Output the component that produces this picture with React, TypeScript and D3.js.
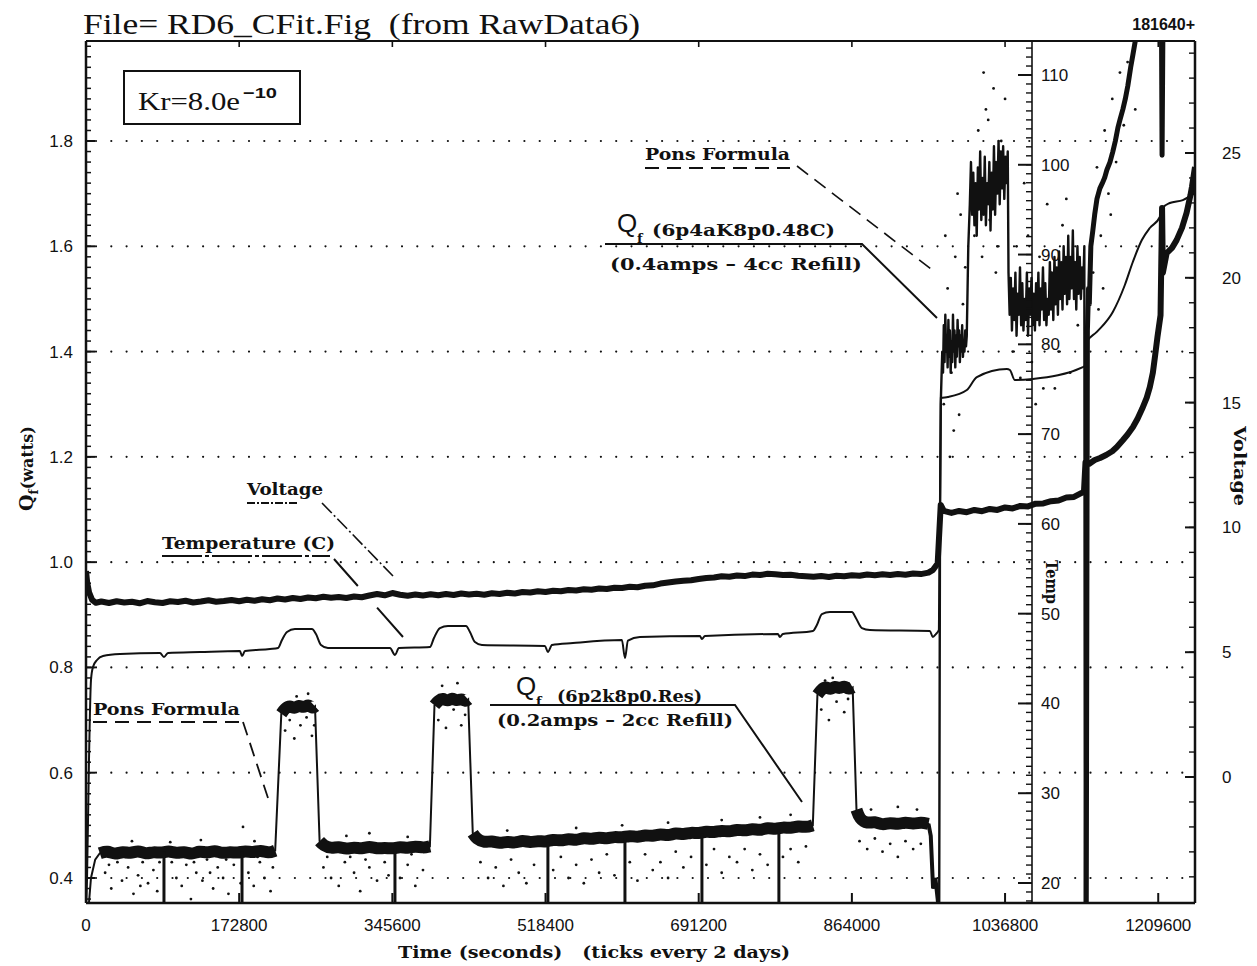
import React from 'react';
import * as d3 from 'd3';

// ---------- axis tick values ----------
const timeTickDays = [0, 2, 4, 6, 8, 10, 12, 14];
const qTicks = [0.4, 0.6, 0.8, 1.0, 1.2, 1.4, 1.6, 1.8];
const tempTicks = [20, 30, 40, 50, 60, 70, 80, 90, 100, 110];
const voltTicks = [0, 5, 10, 15, 20, 25];

// ---------- data (time in days, Q in watts, T in C, V in volts) ----------
const voltage: [number, number][] = [
  [0, 8.25], [0.015, 7.8], [0.04, 7.4], [0.08, 7.1], [0.13, 6.98], [0.2, 7.03], [0.3, 6.97], [0.4, 7.04], [0.5, 6.99], [0.6, 7.02], [0.7, 6.96], [0.8, 7.05], [0.9, 7.0], [1.0, 6.97], [1.1, 7.04], [1.2, 7.01], [1.3, 7.06], [1.4, 6.99], [1.5, 7.03], [1.6, 7.08], [1.7, 7.02], [1.8, 7.05], [1.9, 7.09], [2.0, 7.04], [2.1, 7.1], [2.2, 7.06], [2.3, 7.12], [2.4, 7.08], [2.5, 7.15], [2.6, 7.11], [2.7, 7.17], [2.8, 7.13], [2.9, 7.19], [3.0, 7.16], [3.1, 7.22], [3.2, 7.18], [3.3, 7.21], [3.4, 7.17], [3.5, 7.23], [3.6, 7.2], [3.7, 7.27], [3.8, 7.33], [3.9, 7.28], [4.0, 7.37], [4.1, 7.3], [4.2, 7.26], [4.3, 7.31], [4.4, 7.27], [4.5, 7.32], [4.6, 7.28], [4.7, 7.33], [4.8, 7.29], [4.9, 7.35], [5.0, 7.31], [5.1, 7.34], [5.2, 7.3], [5.3, 7.36], [5.4, 7.33], [5.5, 7.38], [5.6, 7.35], [5.7, 7.41], [5.8, 7.39], [5.9, 7.44], [6.0, 7.41], [6.1, 7.46], [6.2, 7.44], [6.3, 7.49], [6.4, 7.47], [6.5, 7.52], [6.6, 7.5], [6.7, 7.55], [6.8, 7.53], [6.9, 7.58], [7.0, 7.57], [7.1, 7.62], [7.2, 7.6], [7.3, 7.66], [7.4, 7.68], [7.5, 7.75], [7.6, 7.79], [7.7, 7.83], [7.8, 7.86], [7.9, 7.88], [8.0, 7.93], [8.1, 7.97], [8.2, 7.99], [8.3, 8.04], [8.4, 8.02], [8.5, 8.07], [8.6, 8.05], [8.7, 8.11], [8.8, 8.09], [8.9, 8.14], [9.0, 8.12], [9.1, 8.09], [9.2, 8.1], [9.3, 8.06], [9.4, 8.04], [9.5, 8.02], [9.6, 8.05], [9.7, 8.01], [9.8, 8.06], [9.9, 8.04], [10.0, 8.08], [10.1, 8.06], [10.2, 8.11], [10.3, 8.08], [10.4, 8.12], [10.5, 8.09], [10.6, 8.13], [10.7, 8.1], [10.8, 8.15], [10.9, 8.13], [11.0, 8.19], [11.06, 8.3], [11.12, 8.55],
  [11.16, 10.9], [11.2, 10.66], [11.3, 10.58], [11.4, 10.66], [11.5, 10.61], [11.6, 10.7], [11.7, 10.65], [11.8, 10.74], [11.9, 10.7], [12.0, 10.8], [12.1, 10.76], [12.2, 10.86], [12.3, 10.84], [12.4, 10.95], [12.5, 10.96], [12.6, 11.05], [12.7, 11.08], [12.8, 11.2], [12.9, 11.22], [13.0, 11.38], [13.03, 11.42],
  [13.05, 12.6], [13.1, 12.55], [13.17, 12.7], [13.24, 12.78], [13.32, 12.9], [13.4, 13.05], [13.46, 13.22], [13.54, 13.5], [13.6, 13.72], [13.67, 14.02], [13.73, 14.35], [13.79, 14.75], [13.85, 15.2], [13.89, 15.62], [13.93, 16.2], [13.96, 16.9], [13.99, 17.63], [14.03, 18.5], [14.05, 22.8], [14.06, 20.2], [14.11, 20.99], [14.18, 21.2], [14.24, 21.51], [14.31, 22.0], [14.37, 22.6], [14.42, 23.3], [14.44, 23.64], [14.48, 24.44],
];

const temperature: [number, number][] = [
  [0.0, 17], [0.013, 20.3], [0.039, 33.7], [0.065, 42.6], [0.091, 44.06], [0.144, 44.84], [0.222, 45.28], [0.444, 45.51], [0.966, 45.62], [1.018, 45.17], [1.07, 45.62], [1.488, 45.73], [2.01, 45.84], [2.037, 45.28], [2.076, 45.84], [2.402, 46.06], [2.507, 46.17], [2.559, 47.07], [2.624, 47.96], [2.728, 48.29], [2.95, 48.29], [3.003, 47.73], [3.068, 46.51], [3.159, 46.17], [3.969, 46.17], [4.034, 45.4], [4.086, 46.17], [4.491, 46.29], [4.543, 47.29], [4.621, 48.4], [4.726, 48.62], [4.961, 48.62], [5.013, 47.96], [5.078, 46.84], [5.17, 46.51], [5.992, 46.4], [6.031, 45.73], [6.084, 46.51], [6.358, 46.73], [6.997, 47.07], [7.037, 45.06], [7.076, 47.0], [7.232, 47.4], [8.016, 47.51], [8.042, 47.17], [8.081, 47.51], [9.034, 47.73], [9.06, 47.4], [9.099, 47.73], [9.491, 48.07], [9.543, 48.74], [9.608, 49.96], [9.713, 50.18], [10.0, 50.18], [10.052, 49.52], [10.131, 48.4], [10.235, 48.18], [11.018, 48.07], [11.057, 47.4], [11.097, 47.73], [11.136, 48.2],
  [11.162, 74.02], [11.253, 74.13], [11.501, 74.91], [11.632, 76.36], [12.023, 77.25], [12.063, 77.14], [12.128, 76.02], [12.363, 76.14], [13.016, 77.47], [13.042, 77.6], [13.055, 80.15], [13.198, 81.38], [13.407, 83.6], [13.564, 86.61], [13.668, 89.17], [13.786, 91.62], [13.89, 92.96], [14.021, 94.18], [14.06, 95.18], [14.151, 95.74], [14.321, 96.07], [14.478, 96.85],
];

// Q_f at 0.2 amps: steady stretches (baseline and the three heat pulses)
const qLowStart: [number, number][] = [[0.026, 0.33], [0.065, 0.40], [0.12, 0.435], [0.18, 0.447]];
const qLowSeg0: [number, number][] = [[0.18, 0.447], [0.28, 0.452], [0.38, 0.444], [0.48, 0.451], [0.58, 0.446], [0.68, 0.453], [0.78, 0.445], [0.88, 0.45], [0.98, 0.447], [1.08, 0.452], [1.18, 0.446], [1.28, 0.451], [1.38, 0.444], [1.48, 0.452], [1.58, 0.447], [1.68, 0.453], [1.78, 0.446], [1.88, 0.45], [1.98, 0.447], [2.08, 0.452], [2.18, 0.448], [2.28, 0.453], [2.38, 0.447], [2.47, 0.452]];
const qLowSeg1: [number, number][] = [[2.55, 0.712], [2.6, 0.722], [2.66, 0.728], [2.72, 0.721], [2.78, 0.729], [2.84, 0.723], [2.9, 0.73], [2.96, 0.722], [2.99, 0.726]];
const qLowSeg2: [number, number][] = [[3.05, 0.47], [3.1, 0.462], [3.2, 0.456], [3.3, 0.46], [3.4, 0.454], [3.5, 0.459], [3.6, 0.455], [3.7, 0.461], [3.8, 0.455], [3.9, 0.458], [4.0, 0.455], [4.1, 0.46], [4.2, 0.456], [4.3, 0.461], [4.4, 0.457], [4.49, 0.46]];
const qLowSeg3: [number, number][] = [[4.55, 0.728], [4.6, 0.737], [4.66, 0.742], [4.72, 0.735], [4.78, 0.743], [4.84, 0.736], [4.9, 0.741], [4.96, 0.735], [4.99, 0.739]];
const qLowSeg4: [number, number][] = [[5.05, 0.485], [5.1, 0.474], [5.2, 0.467], [5.3, 0.471], [5.4, 0.465], [5.5, 0.47], [5.6, 0.466], [5.7, 0.472], [5.8, 0.467], [5.9, 0.471], [6.0, 0.468], [6.1, 0.474], [6.2, 0.47], [6.3, 0.475], [6.4, 0.471], [6.5, 0.477], [6.6, 0.473], [6.7, 0.478], [6.8, 0.474], [6.9, 0.479], [7.0, 0.476], [7.1, 0.481], [7.2, 0.477], [7.3, 0.482], [7.4, 0.479], [7.5, 0.484], [7.6, 0.48], [7.7, 0.486], [7.8, 0.482], [7.9, 0.487], [8.0, 0.484], [8.1, 0.489], [8.2, 0.486], [8.3, 0.491], [8.4, 0.487], [8.5, 0.493], [8.6, 0.489], [8.7, 0.494], [8.8, 0.49], [8.9, 0.496], [9.0, 0.492], [9.1, 0.497], [9.2, 0.494], [9.3, 0.499], [9.4, 0.496], [9.49, 0.5]];
const qLowSeg5: [number, number][] = [[9.55, 0.748], [9.6, 0.758], [9.66, 0.764], [9.72, 0.757], [9.78, 0.765], [9.84, 0.759], [9.9, 0.766], [9.96, 0.758], [10.01, 0.762]];
const qLowSeg6: [number, number][] = [[10.06, 0.53], [10.1, 0.512], [10.2, 0.503], [10.3, 0.508], [10.4, 0.5], [10.5, 0.506], [10.6, 0.501], [10.7, 0.507], [10.8, 0.502], [10.9, 0.506], [11.0, 0.503]];
const qLowEnd: [number, number][] = [[11.0, 0.503], [11.03, 0.48], [11.06, 0.38], [11.09, 0.40], [11.12, 0.36], [11.14, 0.33]];
// refill events: [day, Q level before the drop]
const refills: [number, number][] = [[1.018, 0.45], [2.037, 0.45], [4.034, 0.457], [6.031, 0.468], [7.037, 0.476], [8.042, 0.485], [9.047, 0.492]];

// Q_f at 0.4 amps (before and after the 4cc refill at ~13.04 days)
const qHighA: [number, number][] = [
  [11.14, 0.33], [11.15, 1.05], [11.16, 1.30], [11.18, 1.40], [11.19, 1.36], [11.2, 1.45], [11.21, 1.38], [11.22, 1.47], [11.23, 1.40], [11.24, 1.43], [11.25, 1.37], [11.26, 1.46], [11.27, 1.39], [11.28, 1.44], [11.29, 1.36], [11.3, 1.42], [11.31, 1.38], [11.32, 1.47], [11.33, 1.40], [11.34, 1.44], [11.35, 1.37], [11.36, 1.43], [11.37, 1.39], [11.38, 1.46], [11.39, 1.41], [11.4, 1.44], [11.41, 1.38], [11.42, 1.43], [11.43, 1.40], [11.44, 1.45], [11.45, 1.39], [11.46, 1.42], [11.47, 1.40], [11.48, 1.44], [11.49, 1.41], [11.5, 1.43],
  [11.52, 1.60], [11.54, 1.68], [11.555, 1.76], [11.57, 1.66], [11.585, 1.74], [11.6, 1.64], [11.615, 1.72], [11.63, 1.62], [11.645, 1.75], [11.66, 1.67], [11.675, 1.78], [11.69, 1.65], [11.705, 1.73], [11.72, 1.66], [11.735, 1.77], [11.75, 1.64], [11.765, 1.72], [11.78, 1.68], [11.795, 1.76], [11.81, 1.63], [11.825, 1.74], [11.84, 1.67], [11.855, 1.79], [11.87, 1.66], [11.885, 1.76], [11.9, 1.70], [11.915, 1.80], [11.93, 1.68], [11.945, 1.78], [11.96, 1.71], [11.975, 1.79], [11.99, 1.69], [12.005, 1.77], [12.02, 1.72], [12.035, 1.78],
  [12.045, 1.55], [12.06, 1.47], [12.075, 1.54], [12.09, 1.44], [12.105, 1.52], [12.12, 1.46], [12.135, 1.55], [12.15, 1.43], [12.165, 1.51], [12.18, 1.47], [12.195, 1.56], [12.21, 1.45], [12.225, 1.53], [12.24, 1.44], [12.255, 1.50], [12.27, 1.46], [12.285, 1.55], [12.3, 1.43], [12.315, 1.52], [12.33, 1.47], [12.345, 1.54], [12.36, 1.45], [12.375, 1.51], [12.39, 1.44], [12.405, 1.53], [12.42, 1.46], [12.435, 1.55], [12.45, 1.45], [12.465, 1.52], [12.48, 1.48], [12.495, 1.56], [12.51, 1.46], [12.525, 1.53], [12.54, 1.45], [12.555, 1.50], [12.57, 1.47], [12.585, 1.57], [12.6, 1.48], [12.615, 1.55], [12.63, 1.46], [12.645, 1.58], [12.66, 1.49], [12.675, 1.56], [12.69, 1.47], [12.705, 1.59], [12.72, 1.50], [12.735, 1.57], [12.75, 1.48], [12.765, 1.60], [12.78, 1.51], [12.795, 1.58], [12.81, 1.49], [12.825, 1.62], [12.84, 1.50], [12.855, 1.58], [12.87, 1.52], [12.885, 1.63], [12.9, 1.50], [12.915, 1.57], [12.93, 1.48], [12.945, 1.60], [12.96, 1.51], [12.975, 1.58], [12.99, 1.50], [13.005, 1.56], [13.02, 1.52], [13.035, 1.60],
  [13.042, 0.33],
];
const qHighB: [number, number][] = [
  [13.06, 0.33], [13.075, 1.44], [13.09, 1.52], [13.1, 1.49], [13.12, 1.60], [13.146, 1.63], [13.17, 1.66], [13.2, 1.69], [13.238, 1.71], [13.27, 1.72], [13.3, 1.73], [13.329, 1.745], [13.37, 1.76], [13.407, 1.78], [13.44, 1.80], [13.473, 1.825], [13.5, 1.84], [13.538, 1.86], [13.57, 1.88], [13.603, 1.905], [13.64, 1.94], [13.668, 1.963], [13.7, 1.99], [13.721, 2.01], [14.04, 2.1], [14.05, 1.773], [14.065, 2.1], [14.48, 2.2],
];

// Pons-formula scatter points (day, Q)
const ponsDots: [number, number][] = [
  [0.25, 0.41], [0.33, 0.38], [0.41, 0.43], [0.47, 0.395], [0.55, 0.42], [0.62, 0.37], [0.68, 0.405], [0.74, 0.43], [0.81, 0.39], [0.88, 0.415], [0.93, 0.375], [1.12, 0.43], [1.18, 0.40], [1.25, 0.385], [1.31, 0.425], [1.37, 0.36], [1.44, 0.41], [1.52, 0.395], [1.58, 0.435], [1.66, 0.38], [1.72, 0.42], [1.79, 0.40], [1.86, 0.37], [1.93, 0.425], [2.12, 0.41], [2.19, 0.385], [2.27, 0.43], [2.33, 0.40], [2.41, 0.375], [0.6, 0.47], [1.1, 0.468], [1.5, 0.472], [2.2, 0.47], [2.05, 0.497],
  [0.3, 0.425], [0.52, 0.44], [0.71, 0.385], [0.96, 0.43], [1.22, 0.44], [1.41, 0.43], [1.62, 0.41], [1.83, 0.435], [2.02, 0.39], [2.24, 0.44], [2.44, 0.42],
  [2.6, 0.68], [2.66, 0.70], [2.72, 0.665], [2.8, 0.69], [2.88, 0.705], [2.95, 0.67], [2.9, 0.75], [2.75, 0.745], [2.98, 0.69],
  [3.1, 0.42], [3.2, 0.40], [3.3, 0.385], [3.38, 0.43], [3.5, 0.41], [3.58, 0.375], [3.7, 0.42], [3.8, 0.395], [3.9, 0.43], [4.1, 0.40], [4.2, 0.425], [4.3, 0.385], [4.4, 0.415], [3.4, 0.48], [3.7, 0.485], [4.2, 0.478],
  [3.15, 0.44], [3.45, 0.44], [3.65, 0.435], [3.95, 0.405], [4.25, 0.445],
  [4.6, 0.70], [4.7, 0.685], [4.8, 0.72], [4.9, 0.69], [4.95, 0.71], [4.65, 0.765], [4.85, 0.77],
  [5.15, 0.43], [5.25, 0.40], [5.35, 0.42], [5.45, 0.385], [5.55, 0.435], [5.65, 0.41], [5.75, 0.39], [5.85, 0.425], [6.1, 0.415], [6.2, 0.44], [6.3, 0.40], [6.4, 0.425], [6.5, 0.39], [6.6, 0.435], [6.7, 0.41], [6.8, 0.445], [6.9, 0.405], [7.1, 0.43], [7.2, 0.395], [7.3, 0.445], [7.4, 0.415], [7.5, 0.43], [7.6, 0.40], [7.7, 0.45], [7.8, 0.42], [7.9, 0.44], [8.1, 0.425], [8.2, 0.455], [8.3, 0.41], [8.4, 0.44], [8.5, 0.43], [8.6, 0.455], [8.7, 0.415], [8.8, 0.445], [8.9, 0.425], [9.1, 0.44], [9.2, 0.455], [9.3, 0.43], [9.4, 0.46], [5.5, 0.49], [6.4, 0.495], [7.0, 0.50], [7.6, 0.505], [8.3, 0.51], [8.8, 0.515], [9.2, 0.52],
  [9.6, 0.72], [9.7, 0.70], [9.8, 0.735], [9.9, 0.715], [9.75, 0.78], [9.65, 0.775], [9.95, 0.74],
  [10.1, 0.47], [10.2, 0.455], [10.3, 0.475], [10.4, 0.45], [10.5, 0.465], [10.6, 0.44], [10.7, 0.47], [10.8, 0.455], [10.9, 0.465], [10.25, 0.53], [10.6, 0.535], [10.85, 0.53],
  [11.2, 1.30], [11.25, 1.52], [11.3, 1.36], [11.35, 1.58], [11.4, 1.28], [11.45, 1.49], [11.22, 1.62], [11.33, 1.25], [11.48, 1.56], [11.42, 1.66], [11.28, 1.20], [11.38, 1.70],
  [11.6, 1.62], [11.65, 1.82], [11.7, 1.58], [11.75, 1.86], [11.8, 1.65], [11.85, 1.90], [11.9, 1.60], [11.95, 1.80], [12.0, 1.88], [11.72, 1.93], [11.88, 1.55], [11.78, 1.84],
  [12.1, 1.40], [12.15, 1.60], [12.2, 1.35], [12.3, 1.62], [12.35, 1.38], [12.45, 1.58], [12.5, 1.33], [12.6, 1.55], [12.7, 1.40], [12.75, 1.64], [12.85, 1.36], [12.9, 1.57], [12.95, 1.45], [12.55, 1.68], [12.25, 1.72], [12.4, 1.30], [12.65, 1.33], [12.8, 1.69],
  [13.15, 1.55], [13.2, 1.75], [13.25, 1.62], [13.3, 1.82], [13.35, 1.70], [13.4, 1.88], [13.45, 1.76], [13.5, 1.93], [13.55, 1.83], [13.6, 1.95], [13.22, 1.48], [13.38, 1.66], [13.28, 1.52], [13.7, 1.86],
];

const F_SANS = "'Liberation Sans', Arial, sans-serif";
const F_SERIF = "'Liberation Serif', 'Times New Roman', serif";
const F_BOLD = "'DejaVu Serif', serif";

export default function App() {
  const x = d3.scaleLinear().domain([0, 14.48]).range([86, 1195]);
  const yQ = d3.scaleLinear().domain([0.3525, 1.99]).range([903, 41]);
  const yT = d3.scaleLinear().domain([20, 110]).range([883, 75]);
  const yV = d3.scaleLinear().domain([0, 25]).range([777, 153]);

  const lineQ = d3.line<[number, number]>().x(d => x(d[0])).y(d => yQ(d[1]));
  const bandQ = d3.line<[number, number]>().x(d => x(d[0])).y(d => yQ(d[1])).curve(d3.curveBasis);
  const lineT = d3.line<[number, number]>().x(d => x(d[0])).y(d => yT(d[1])).curve(d3.curveMonotoneX);
  const lineV = d3.line<[number, number]>().x(d => x(d[0])).y(d => yV(d[1]));

  const lowSegs = [qLowSeg0, qLowSeg1, qLowSeg2, qLowSeg3, qLowSeg4, qLowSeg5, qLowSeg6];
  const lowAll = ([] as [number, number][]).concat(qLowStart, ...lowSegs, qLowEnd);

  const qMinor = d3.range(0.36, 1.99, 0.02);
  const tMinor = d3.range(18, 114.5, 1);
  const vMinor = d3.range(-5, 29.5, 1);

  const X0 = 86, X1 = 1195, Y0 = 41, Y1 = 903, XT = 1032;

  return (
    <svg width={1257} height={966} style={{ position: 'absolute', left: 0, top: 0, background: '#fff' }}>
      <rect x={0} y={0} width={1257} height={966} fill="#fff" />
      <defs>
        <clipPath id="plot"><rect x={X0} y={Y0} width={X1 - X0} height={Y1 - Y0} /></clipPath>
      </defs>

      {/* grid */}
      {qTicks.map(q => (
        <line key={'g' + q} x1={X0 + 10} x2={X1 - 4} y1={yQ(q)} y2={yQ(q)} stroke="#111" strokeWidth={2.2} strokeDasharray="0 15.3" strokeLinecap="round" />
      ))}

      {/* data */}
      <g clipPath="url(#plot)">
        {ponsDots.map((d, i) => (
          <circle key={'p' + i} cx={x(d[0])} cy={yQ(d[1])} r={1.4} fill="#111" />
        ))}
        <path d={lineT(temperature) || ''} fill="none" stroke="#111" strokeWidth={2} />
        <path d={lineV(voltage) || ''} fill="none" stroke="#111" strokeWidth={6} strokeLinejoin="round" />
        <path d={lineQ(lowAll) || ''} fill="none" stroke="#111" strokeWidth={2} />
        {lowSegs.map((s, i) => (
          <path key={'s' + i} d={bandQ(s) || ''} fill="none" stroke="#111" strokeWidth={12} />
        ))}
        <path d={lineQ(qLowEnd) || ''} fill="none" stroke="#111" strokeWidth={4} />
        {refills.map((r, i) => (
          <line key={'r' + i} x1={x(r[0])} x2={x(r[0])} y1={yQ(r[1])} y2={yQ(0.33)} stroke="#111" strokeWidth={3} />
        ))}
        <path d={lineQ(qHighA) || ''} fill="none" stroke="#111" strokeWidth={2.4} strokeLinejoin="round" />
        <path d={lineQ(qHighB) || ''} fill="none" stroke="#111" strokeWidth={5} strokeLinejoin="round" />
      </g>

      {/* frame */}
      <line x1={X0} x2={X1} y1={Y0} y2={Y0} stroke="#111" strokeWidth={2} />
      <line x1={X0} x2={X1} y1={Y1} y2={Y1} stroke="#111" strokeWidth={2.5} />
      <line x1={X0} x2={X0} y1={Y0} y2={Y1} stroke="#111" strokeWidth={2.5} />
      <line x1={X1} x2={X1} y1={Y0} y2={Y1} stroke="#111" strokeWidth={2.5} />
      <line x1={XT} x2={XT} y1={Y0} y2={Y1} stroke="#111" strokeWidth={1.6} />

      {/* left axis ticks */}
      {qMinor.map((q, i) => (
        <line key={'qm' + i} x1={X0} x2={X0 + 5} y1={yQ(q)} y2={yQ(q)} stroke="#111" strokeWidth={1.5} />
      ))}
      {qTicks.map(q => (
        <g key={'qt' + q}>
          <line x1={X0} x2={X0 + 9} y1={yQ(q)} y2={yQ(q)} stroke="#111" strokeWidth={2} />
          <text x={73} y={yQ(q) + 6} textAnchor="end" fontFamily={F_SANS} fontSize={17} fill="#111">{q.toFixed(1)}</text>
        </g>
      ))}

      {/* time axis */}
      {timeTickDays.map(d => (
        <g key={'xt' + d}>
          <line x1={x(d)} x2={x(d)} y1={Y1} y2={Y1 - 10} stroke="#111" strokeWidth={2} />
          <line x1={x(d)} x2={x(d)} y1={Y0} y2={Y0 + 6} stroke="#111" strokeWidth={1.6} />
          <text x={x(d)} y={931} textAnchor="middle" fontFamily={F_SANS} fontSize={17} fill="#111">{String(d * 86400)}</text>
        </g>
      ))}

      {/* temperature axis */}
      {tMinor.map((t, i) => (
        yT(t) > Y0 + 2 && yT(t) < Y1 - 2 ?
          <line key={'tm' + i} x1={XT - 6} x2={XT} y1={yT(t)} y2={yT(t)} stroke="#111" strokeWidth={1.4} /> : null
      ))}
      {tempTicks.map(t => (
        <g key={'tt' + t}>
          <line x1={XT - 14} x2={XT} y1={yT(t)} y2={yT(t)} stroke="#111" strokeWidth={2} />
          <text x={1041} y={yT(t) + 6} fontFamily={F_SANS} fontSize={17} fill="#111">{t}</text>
        </g>
      ))}
      <text transform="translate(1046,582) rotate(90)" textAnchor="middle" fontFamily={F_BOLD} fontWeight="bold" fontSize={16} textLength={44} lengthAdjust="spacingAndGlyphs" fill="#111">Temp</text>

      {/* voltage axis */}
      {vMinor.map((v, i) => (
        yV(v) > Y0 + 2 && yV(v) < Y1 - 2 ?
          <line key={'vm' + i} x1={X1 - 6} x2={X1} y1={yV(v)} y2={yV(v)} stroke="#111" strokeWidth={1.4} /> : null
      ))}
      {voltTicks.map(v => (
        <g key={'vt' + v}>
          <line x1={X1 - 10} x2={X1} y1={yV(v)} y2={yV(v)} stroke="#111" strokeWidth={2} />
          <text x={1222} y={yV(v) + 6} fontFamily={F_SANS} fontSize={17} fill="#111">{v}</text>
        </g>
      ))}
      <text transform="translate(1234,466) rotate(90)" textAnchor="middle" fontFamily={F_BOLD} fontWeight="bold" fontSize={16} textLength={80} lengthAdjust="spacingAndGlyphs" fill="#111">Voltage</text>

      {/* titles */}
      <text x={83} y={34} fontFamily={F_SERIF} fontSize={30} textLength={557} lengthAdjust="spacingAndGlyphs" style={{ whiteSpace: 'pre' }} fill="#111">File= RD6_CFit.Fig  (from RawData6)</text>
      <text x={1195} y={30} textAnchor="end" fontFamily={F_SANS} fontWeight="bold" fontSize={16} fill="#111">181640+</text>
      <text x={594} y={958} textAnchor="middle" fontFamily={F_BOLD} fontWeight="bold" fontSize={16} textLength={392} lengthAdjust="spacingAndGlyphs" style={{ whiteSpace: 'pre' }} fill="#111">Time (seconds)   (ticks every 2 days)</text>
      <text transform="translate(33,511) rotate(-90)" fontFamily={F_BOLD} fontWeight="bold" fill="#111">
        <tspan fontSize={19}>Q</tspan>
        <tspan fontSize={12} dy={5}>f</tspan>
        <tspan fontSize={16} dy={-5}>(watts)</tspan>
      </text>

      {/* Kr box */}
      <rect x={124} y={71} width={176} height={53} fill="none" stroke="#111" strokeWidth={2} />
      <text x={138} y={110} fontFamily={F_SERIF} fontSize={25} textLength={102} lengthAdjust="spacingAndGlyphs" fill="#111">Kr=8.0e</text>
      <text x={243} y={98} fontFamily={F_SANS} fontSize={15} fontWeight="bold" textLength={34} lengthAdjust="spacingAndGlyphs" fill="#111">−10</text>

      {/* annotations */}
      <g fill="#111" fontFamily={F_BOLD} fontWeight="bold" fontSize={16}>
        <text x={247} y={495} textLength={76} lengthAdjust="spacingAndGlyphs">Voltage</text>
        <text x={162} y={549} textLength={173} lengthAdjust="spacingAndGlyphs">Temperature (C)</text>
        <text x={93} y={715} textLength={147} lengthAdjust="spacingAndGlyphs">Pons Formula</text>
        <text x={645} y={160} textLength={145} lengthAdjust="spacingAndGlyphs">Pons Formula</text>
        <text x={516} y={695} fontFamily={F_SANS} fontSize={26} fontWeight="normal">Q</text>
        <text x={536} y={706} fontSize={13}>f</text>
        <text x={557} y={702} textLength={145} lengthAdjust="spacingAndGlyphs">(6p2k8p0.Res)</text>
        <text x={497} y={726} textLength={236} lengthAdjust="spacingAndGlyphs">(0.2amps – 2cc Refill)</text>
        <text x={617} y={232} fontFamily={F_SANS} fontSize={26} fontWeight="normal">Q</text>
        <text x={637} y={243} fontSize={13}>f</text>
        <text x={652} y={236} textLength={183} lengthAdjust="spacingAndGlyphs">(6p4aK8p0.48C)</text>
        <text x={610} y={270} textLength={252} lengthAdjust="spacingAndGlyphs">(0.4amps – 4cc Refill)</text>
      </g>
      <g fill="none" stroke="#111">
        <path d="M247 503 L297 503" strokeWidth={2} strokeDasharray="8 2 2 2" />
        <path d="M322 503 L393 576" strokeWidth={1.6} strokeDasharray="14 3 2 3" />
        <path d="M162 556 L330 556" strokeWidth={2} strokeDasharray="40 3 4 3" />
        <path d="M334 559 L403 637" strokeWidth={2} strokeDasharray="36 29 40" />
        <path d="M93 722 L240 722" strokeWidth={2} strokeDasharray="14 8" />
        <path d="M243 722 L268 798" strokeWidth={1.8} strokeDasharray="14 8" />
        <path d="M490 705 L735 705 L802 802" strokeWidth={2} />
        <path d="M645 168 L790 168" strokeWidth={2} strokeDasharray="14 8" />
        <path d="M797 166 L935 272" strokeWidth={1.6} strokeDasharray="14 8" />
        <path d="M605 244 L862 244 L937 318" strokeWidth={2} />
      </g>
    </svg>
  );
}
